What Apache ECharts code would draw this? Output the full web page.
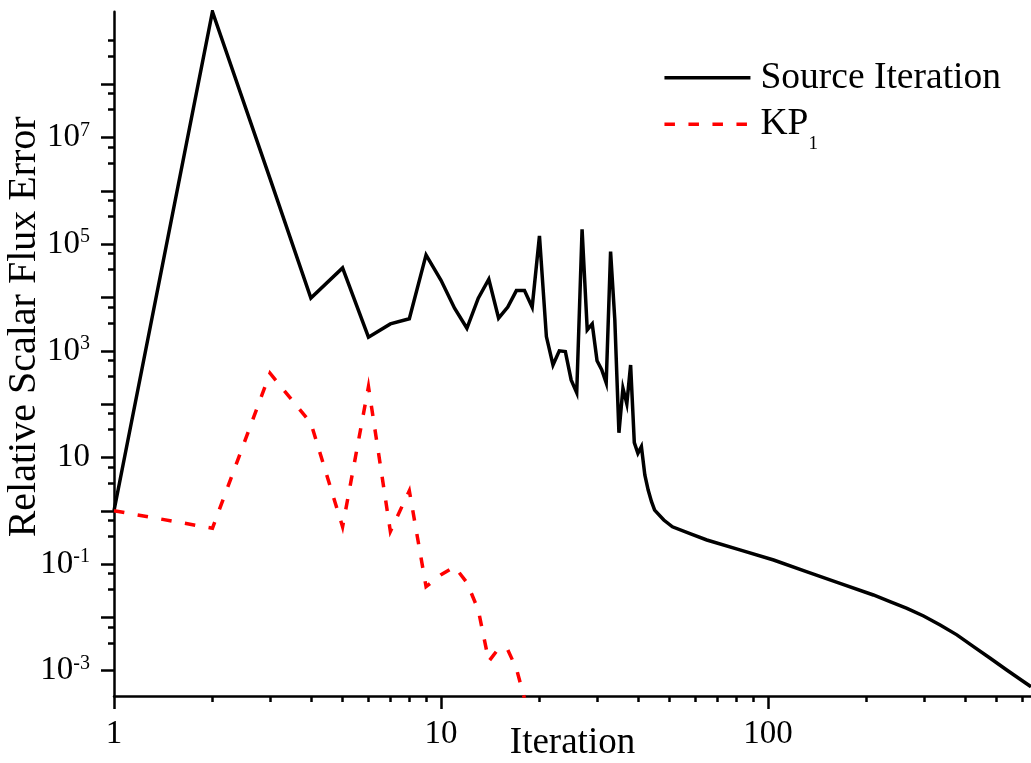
<!DOCTYPE html>
<html>
<head>
<meta charset="utf-8">
<script src="https://cdn.jsdelivr.net/npm/echarts@6/dist/echarts.min.js"></script>
<style>
html,body{margin:0;padding:0;background:#fff;}
#chart{width:1031px;height:763px;}
</style>
</head>
<body>
<div id="chart"></div>
<script>
// ---- data ----
const siIterations = [1,2,3,4,5,6,7,8,9,10,11,12,13,14,15,16,17,18,19,20,21,22,23,24,25,26,27,28,29,30,31,32,33,34,35,36,37,38,39,40,41,42,43,44,45,48,51,58,65,82,104,131,166,210,236,266,299,336,378,425,478,537,590,637];
const siErrors = [1,2.3e9,1.7e6,9.8e3,3.6e4,1.8e3,3.2e3,4.0e3,6.3e4,2.1e4,6.3e3,2.65e3,9.7e3,2.2e4,4.1e3,6.6e3,1.35e4,1.35e4,6.6e3,1.43e5,1.85e3,543,1.0e3,966,284,164,1.91e5,2.47e3,3.2e3,650,445,250,7.26e4,3.8e3,29,199,102,543,19,12,16,4.7,2.45,1.5,1.03,0.67,0.50,0.367,0.283,0.184,0.119,0.072,0.0436,0.0263,0.0197,0.0148,0.0106,0.0072,0.0047,0.00282,0.00171,0.00103,6.9e-4,5.0e-4];
const kpIterations = [1,2,3,4,5,6,7,8,9,10,11,12,13,14,15,16,17,18];
const kpErrors = [1,0.47,380,44,0.5,213,0.41,2.38,0.0377,0.063,0.089,0.045,0.0138,0.0015,0.0026,0.00245,0.0011,3.0e-4];

const seriesNames = ['Source Iteration', 'KP1'];
const xTickLabels = [1, 10, 100];
const xMajorTicks = [1, 10, 100];
const xMinorTicks = [2,3,4,5,6,7,8,9,20,30,40,50,60,70,80,90,200,300,400,500,600];
const yTickLabels = [1e-3, 1e-1, 10, 1e3, 1e5, 1e7];
const yMajorTicks = [1e-3,1e-2,1e-1,1,10,1e2,1e3,1e4,1e5,1e6,1e7,1e8];
const yMinorTicks = [3.333e-3,6.667e-3,3.333e-2,6.667e-2,3.333e-1,6.667e-1,3.333,6.667,33.33,66.67,333.3,666.7,3333,6667,3.333e4,6.667e4,3.333e5,6.667e5,3.333e6,6.667e6,3.333e7,6.667e7,3.333e8,6.667e8];
const xRange = [1, 637];
const yRange = [3.35e-4, 2.3e9];

// ---- chart ----
const FONT = '"Liberation Serif", "Times New Roman", serif';
const chart = echarts.init(document.getElementById('chart'), null, {renderer: 'canvas'});

function zip(xs, ys) { return xs.map((x, i) => [x, ys[i]]); }

const axisLineStyle = {color: '#000', width: 2.5};
const tickLine = {color: '#000', width: 2.5};
const hiddenSymbol = {color: 'rgba(0,0,0,0)', borderColor: 'rgba(0,0,0,0)', borderWidth: 0, opacity: 0};

const option = {
  backgroundColor: '#fff',
  animation: false,
  grid: {left: 114, right: 0, top: 11.7, bottom: 67, containLabel: false, outerBoundsMode: 'none'},
  legend: [
    {
      data: [seriesNames[0]], left: 662.7, top: 57.7, padding: 0, orient: 'vertical',
      itemWidth: 86, itemHeight: 14, selectedMode: false,
      lineStyle: {width: 3.5}, itemStyle: hiddenSymbol,
      textStyle: {fontFamily: FONT, fontSize: 37.5, color: '#000', lineHeight: 40, padding: [0, 0, 0, 5]}
    },
    {
      data: [seriesNames[1]], left: 662.7, top: 95.3, padding: 0, orient: 'vertical',
      itemWidth: 86, itemHeight: 14, selectedMode: false,
      lineStyle: {width: 3.5}, itemStyle: hiddenSymbol,
      formatter: function () { return 'KP{sub|1}'; },
      textStyle: {
        fontFamily: FONT, fontSize: 37.5, color: '#000', lineHeight: 58, padding: [0, 0, 0, 5],
        rich: {sub: {fontFamily: FONT, fontSize: 19, color: '#000', lineHeight: 58, padding: [39, 0, 0, 0]}}
      }
    }
  ],
  xAxis: [
    {
      type: 'log', logBase: 10, gridIndex: 0, position: 'bottom', min: xRange[0], max: xRange[1],
      axisLine: {show: true, onZero: false, lineStyle: axisLineStyle},
      axisTick: {show: true, inside: false, length: 13, lineStyle: tickLine, customValues: xMajorTicks},
      axisLabel: {show: true, customValues: xTickLabels, margin: 22, fontFamily: FONT, fontSize: 33, color: '#000',
        formatter: function (v) { return String(Math.round(v)); }},
      splitLine: {show: false}, minorTick: {show: false}, minorSplitLine: {show: false},
      name: 'Iteration', nameLocation: 'middle', nameGap: 29, nameMoveOverlap: false,
      nameTextStyle: {fontFamily: FONT, fontSize: 37, color: '#000'}
    },
    {
      type: 'log', logBase: 10, gridIndex: 0, position: 'bottom', min: xRange[0], max: xRange[1],
      axisLine: {show: false, onZero: false},
      axisTick: {show: true, inside: false, length: 6, lineStyle: tickLine, customValues: xMinorTicks},
      axisLabel: {show: false},
      splitLine: {show: false}, minorTick: {show: false}
    }
  ],
  yAxis: [
    {
      type: 'log', logBase: 10, gridIndex: 0, position: 'left', min: yRange[0], max: yRange[1],
      axisLine: {show: true, onZero: false, lineStyle: axisLineStyle},
      axisTick: {show: true, inside: false, length: 13, lineStyle: tickLine, customValues: yMajorTicks},
      axisLabel: {
        show: true, customValues: yTickLabels, margin: 24, fontFamily: FONT, fontSize: 33, color: '#000', lineHeight: 34,
        formatter: function (v) {
          const e = Math.round(Math.log10(v));
          return e === 1 ? '10' : '10{sup|' + e + '}';
        },
        rich: {sup: {fontFamily: FONT, fontSize: 20, color: '#000', lineHeight: 34, padding: [0, 0, 14, 0]}}
      },
      splitLine: {show: false}, minorTick: {show: false}, minorSplitLine: {show: false},
      name: 'Relative Scalar Flux Error', nameLocation: 'middle', nameGap: 70, nameMoveOverlap: false,
      nameTextStyle: {fontFamily: FONT, fontSize: 40, color: '#000', padding: [0, 0, 0, 54]}
    },
    {
      type: 'log', logBase: 10, gridIndex: 0, position: 'left', min: yRange[0], max: yRange[1],
      axisLine: {show: false, onZero: false},
      axisTick: {show: true, inside: false, length: 6, lineStyle: tickLine, customValues: yMinorTicks},
      axisLabel: {show: false},
      splitLine: {show: false}, minorTick: {show: false}
    }
  ],
  series: [
    {
      name: seriesNames[0], type: 'line', xAxisIndex: 0, yAxisIndex: 0,
      data: zip(siIterations, siErrors), symbol: 'none', clip: true,
      lineStyle: {color: '#000', width: 3.5, type: 'solid', join: 'miter', miterLimit: 6},
      itemStyle: {color: '#000'}
    },
    {
      name: seriesNames[1], type: 'line', xAxisIndex: 0, yAxisIndex: 0,
      data: zip(kpIterations, kpErrors), symbol: 'none', clip: true,
      lineStyle: {color: '#ff0000', width: 3.5, type: [10.5, 13.5], cap: 'butt', join: 'miter'},
      itemStyle: {color: '#ff0000'}
    }
  ]
};
chart.setOption(option);
</script>
</body>
</html>
